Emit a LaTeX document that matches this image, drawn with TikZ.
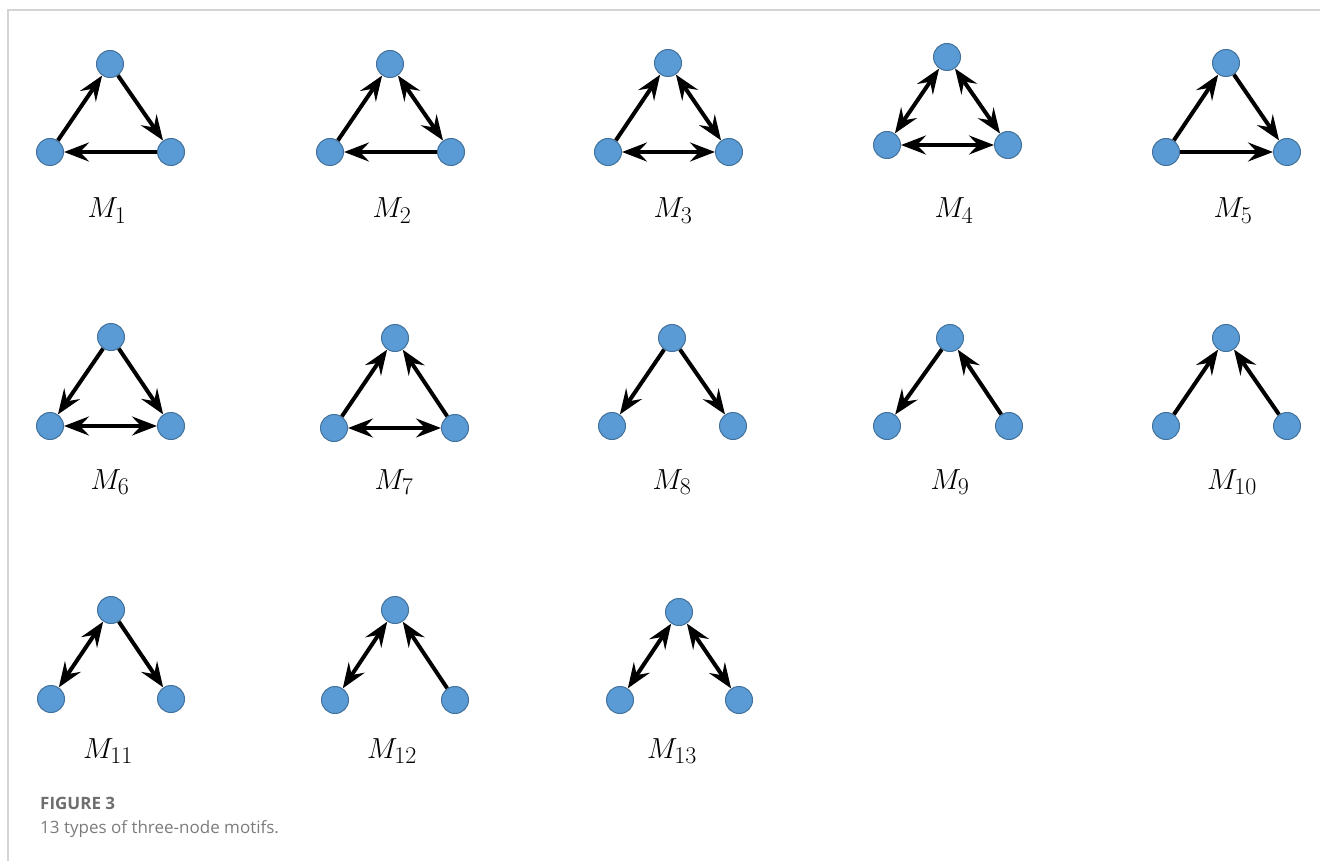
\RequirePackage{fix-cm}
\documentclass[tikz,border=0pt]{standalone}
\usepackage{fontspec}
\setmainfont{Open Sans}
\usetikzlibrary{arrows.meta}

\definecolor{motifblue}{HTML}{5B9BD5}
\definecolor{motifline}{HTML}{41719C}
\definecolor{framegray}{HTML}{D4D4D4}
\definecolor{capgray}{HTML}{6E6E6E}

% 子图标号 M_i
\newcommand{\motiflabel}[1]{$M_{\hbox{\fontsize{24}{26}\selectfont$#1$}}$}

\tikzset{
    vertex/.style={circle, fill=motifblue, draw=motifline, line width=1pt,
                   minimum size=27pt, inner sep=0pt},
    uni/.style={line width=4pt, -{Stealth[length=25pt, width=19pt, inset=9pt]}},
    bi/.style={line width=4pt, {Stealth[length=25pt, width=19pt, inset=9pt]}-{Stealth[length=25pt, width=19pt, inset=9pt]}},
    mlabel/.style={anchor=base, inner sep=0pt, font=\fontsize{29}{31}\selectfont}
}

\begin{document}
\begin{tikzpicture}[x=1pt, y=-1pt]
    \useasboundingbox (0,0) rectangle (1320,861);

    % 外框
    \draw[framegray, line width=1.5pt] (1320,10) -- (8,10) -- (8,861);

    % M_1
    \node[vertex] (t1) at (110, 64) {};
    \node[vertex] (l1) at (50, 152) {};
    \node[vertex] (r1) at (171, 152) {};
    \draw[uni] (l1) -- (t1);
    \draw[uni] (t1) -- (r1);
    \draw[uni] (r1) -- (l1);
    \node[mlabel] (m1) at (107, 218) {\motiflabel{1}};

    % M_2
    \node[vertex] (t2) at (390, 64) {};
    \node[vertex] (l2) at (330, 152) {};
    \node[vertex] (r2) at (451, 152) {};
    \draw[uni] (l2) -- (t2);
    \draw[bi] (t2) -- (r2);
    \draw[uni] (r2) -- (l2);
    \node[mlabel] (m2) at (392, 218) {\motiflabel{2}};

    % M_3
    \node[vertex] (t3) at (668, 63) {};
    \node[vertex] (l3) at (608, 152) {};
    \node[vertex] (r3) at (729, 152) {};
    \draw[uni] (l3) -- (t3);
    \draw[bi] (t3) -- (r3);
    \draw[bi] (l3) -- (r3);
    \node[mlabel] (m3) at (673, 218) {\motiflabel{3}};

    % M_4
    \node[vertex] (t4) at (947, 57) {};
    \node[vertex] (l4) at (887, 145) {};
    \node[vertex] (r4) at (1008, 145) {};
    \draw[bi] (l4) -- (t4);
    \draw[bi] (t4) -- (r4);
    \draw[bi] (l4) -- (r4);
    \node[mlabel] (m4) at (954, 218) {\motiflabel{4}};

    % M_5
    \node[vertex] (t5) at (1226, 63) {};
    \node[vertex] (l5) at (1166, 152) {};
    \node[vertex] (r5) at (1287, 152) {};
    \draw[uni] (l5) -- (t5);
    \draw[uni] (t5) -- (r5);
    \draw[uni] (l5) -- (r5);
    \node[mlabel] (m5) at (1233, 218) {\motiflabel{5}};

    % M_6
    \node[vertex] (t6) at (111, 337) {};
    \node[vertex] (l6) at (50, 426) {};
    \node[vertex] (r6) at (171, 426) {};
    \draw[uni] (t6) -- (l6);
    \draw[uni] (t6) -- (r6);
    \draw[bi] (l6) -- (r6);
    \node[mlabel] (m6) at (110, 489) {\motiflabel{6}};

    % M_7
    \node[vertex] (t7) at (395, 338) {};
    \node[vertex] (l7) at (334, 428) {};
    \node[vertex] (r7) at (455, 428) {};
    \draw[uni] (l7) -- (t7);
    \draw[uni] (r7) -- (t7);
    \draw[bi] (l7) -- (r7);
    \node[mlabel] (m7) at (394, 489) {\motiflabel{7}};

    % M_8
    \node[vertex] (t8) at (672, 338) {};
    \node[vertex] (l8) at (612, 426) {};
    \node[vertex] (r8) at (733, 426) {};
    \draw[uni] (t8) -- (l8);
    \draw[uni] (t8) -- (r8);
    \node[mlabel] (m8) at (672, 489) {\motiflabel{8}};

    % M_9
    \node[vertex] (t9) at (950, 338) {};
    \node[vertex] (l9) at (887, 426) {};
    \node[vertex] (r9) at (1009, 426) {};
    \draw[uni] (t9) -- (l9);
    \draw[uni] (r9) -- (t9);
    \node[mlabel] (m9) at (950, 489) {\motiflabel{9}};

    % M_10
    \node[vertex] (t10) at (1226, 338) {};
    \node[vertex] (l10) at (1166, 426) {};
    \node[vertex] (r10) at (1287, 426) {};
    \draw[uni] (l10) -- (t10);
    \draw[uni] (r10) -- (t10);
    \node[mlabel] (m10) at (1232, 489) {\motiflabel{10}};

    % M_11
    \node[vertex] (t11) at (111, 610) {};
    \node[vertex] (l11) at (51, 699) {};
    \node[vertex] (r11) at (171, 699) {};
    \draw[bi] (t11) -- (l11);
    \draw[uni] (t11) -- (r11);
    \node[mlabel] (m11) at (108, 758) {\motiflabel{11}};

    % M_12
    \node[vertex] (t12) at (395, 610) {};
    \node[vertex] (l12) at (335, 700) {};
    \node[vertex] (r12) at (455, 700) {};
    \draw[bi] (t12) -- (l12);
    \draw[uni] (r12) -- (t12);
    \node[mlabel] (m12) at (392, 758) {\motiflabel{12}};

    % M_13
    \node[vertex] (t13) at (679, 612) {};
    \node[vertex] (l13) at (620, 700) {};
    \node[vertex] (r13) at (739, 700) {};
    \draw[bi] (t13) -- (l13);
    \draw[bi] (t13) -- (r13);
    \node[mlabel] (m13) at (672, 758) {\motiflabel{13}};

    % 图注
    \node[anchor=base west, inner sep=0pt, text=capgray,
          font=\fontsize{17}{20}\selectfont\bfseries] (figno) at (40, 809) {FIGURE 3};
    \node[anchor=base west, inner sep=0pt, text=capgray!90,
          font=\fontsize{17}{20}\selectfont] (figcap) at (40, 833) {13 types of three-node motifs.};

\end{tikzpicture}
\end{document}
